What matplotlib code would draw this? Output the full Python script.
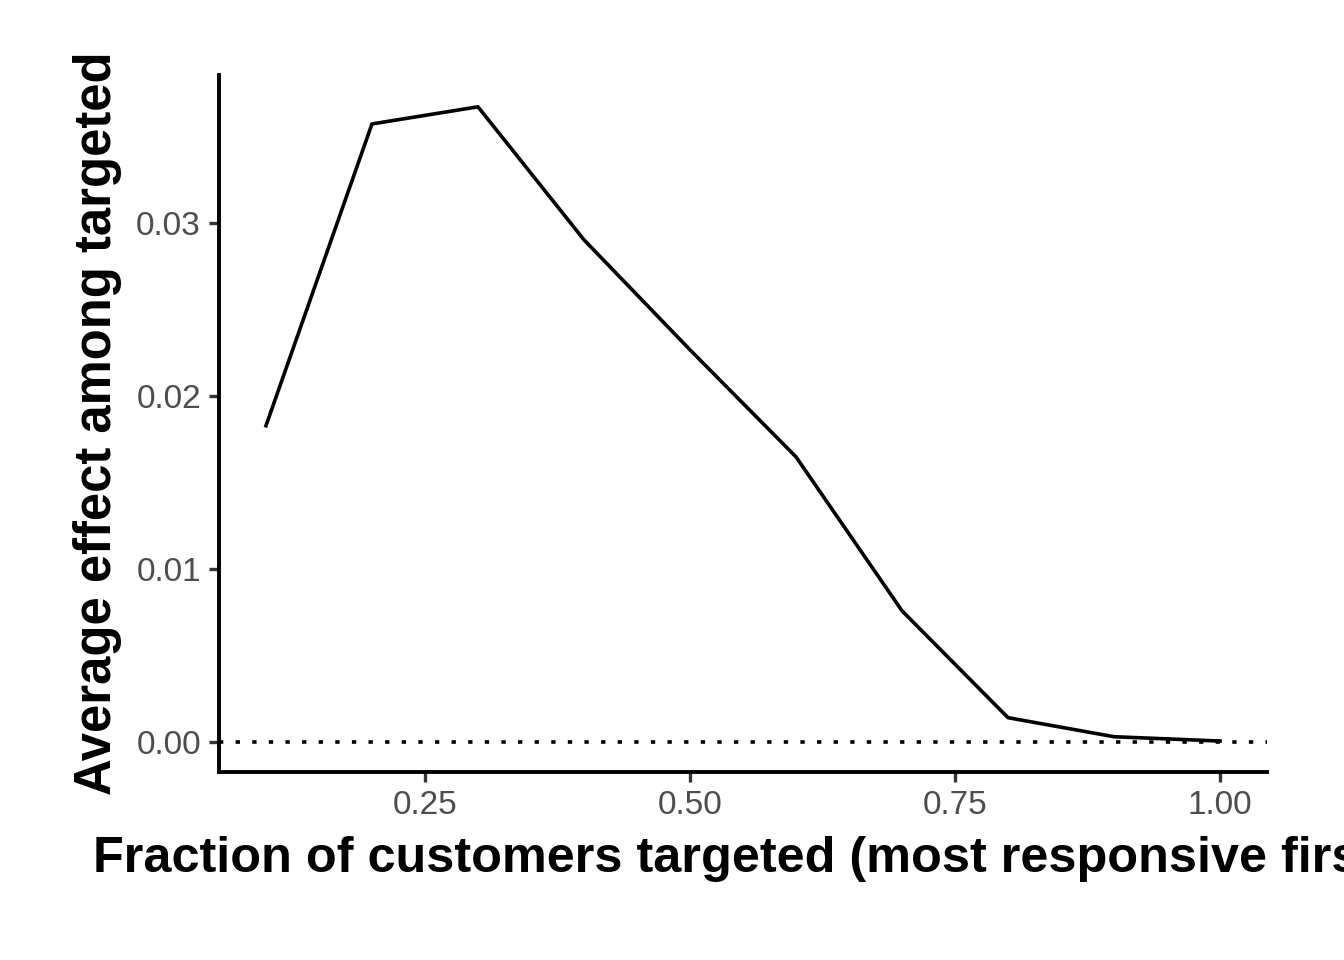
import numpy as np
import matplotlib
matplotlib.use("Agg")
from matplotlib import pyplot as plt

# fraction targeted vs average effect among targeted
frac = [0.1, 0.2, 0.3, 0.4, 0.5, 0.6, 0.7, 0.8, 0.9, 1.0]
avg_effect = [0.01827, 0.03572, 0.03671, 0.02902, 0.02266,
              0.01647, 0.00757, 0.00139, 0.00029, 0.00004]
x_ticks = [0.25, 0.50, 0.75, 1.00]
y_ticks = [0.00, 0.01, 0.02, 0.03]

plt.rcParams['font.family'] = ['Liberation Sans', 'DejaVu Sans']

fig = plt.figure(figsize=(13.44, 9.6), dpi=100)
ax = fig.add_axes([219/1344, 1 - 772/960, (1267-219)/1344, (772-75)/960])

# dotted reference line at zero
ax.axhline(0, color='black', lw=2.6, linestyle=(0, (1.2, 3.4)), dash_capstyle='butt')
ax.plot(frac, avg_effect, color='black', lw=2.6)

ax.set_xlim(0.0557, 1.0443)
ax.set_ylim(-0.00175, 0.03855)
ax.set_xticks(x_ticks)
ax.set_xticklabels(["%.2f" % v for v in x_ticks])
ax.set_yticks(y_ticks)
ax.set_yticklabels(["%.2f" % v for v in y_ticks])

for s in ['top', 'right']:
    ax.spines[s].set_visible(False)
for s in ['left', 'bottom']:
    ax.spines[s].set_linewidth(2.8)
    ax.spines[s].set_color('black')

ax.tick_params(axis='both', length=7, width=2.4, color='#333333',
               labelsize=24, labelcolor='#4D4D4D', pad=6)

ax.set_xlabel("Fraction of customers targeted (most responsive first)",
              fontsize=36.3, fontweight='bold', labelpad=11)
ax.set_ylabel("Average effect among targeted",
              fontsize=36.5, fontweight='bold', labelpad=10)

fig.savefig("out.png", dpi=100)
